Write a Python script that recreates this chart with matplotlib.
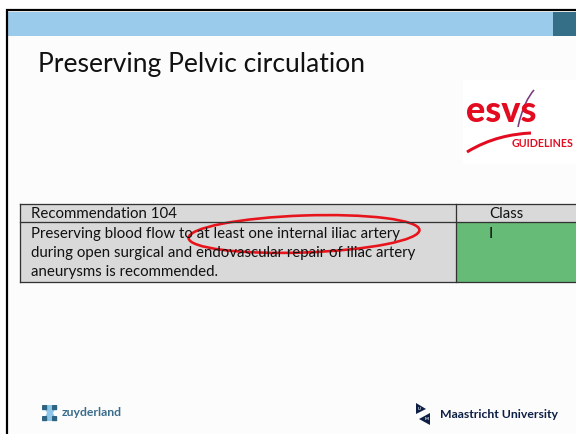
"""Slide recreation: ESVS recommendation on preserving pelvic circulation."""

import matplotlib
matplotlib.use("Agg")
import matplotlib.pyplot as plt
from matplotlib.patches import Rectangle, Ellipse, Polygon, FancyBboxPatch
from matplotlib.path import Path
from matplotlib.patches import PathPatch

plt.rcParams["font.family"] = ["Lato", "DejaVu Sans"]

# slide content
title = "Preserving Pelvic circulation"
header_cells = ["Recommendation 104", "Class"]
body_lines = [
    "Preserving blood flow to at least one internal iliac artery",
    "during open surgical and endovascular repair of iliac artery",
    "aneurysms is recommended.",
]
class_value = "I"
logo_esvs = ["esvs", "GUIDELINES"]
logo_left = "zuyderland"
logo_right = "Maastricht University"

W, H = 576, 434
PT = 72 / 100  # px -> pt at dpi 100

fig = plt.figure(figsize=(W / 100, H / 100), dpi=100)
ax = fig.add_axes([0, 0, 1, 1])
ax.set_xlim(0, W)
ax.set_ylim(H, 0)
ax.axis("off")
fig.patch.set_facecolor("white")

# slide frame and header band
ax.add_patch(Rectangle((7, 10), W, H, facecolor="#fcfcfc", edgecolor="none"))
ax.add_patch(Rectangle((8, 12), W, 24, facecolor="#9acbea", edgecolor="none"))
ax.add_patch(Rectangle((553, 12), 30, 24, facecolor="#356e87", edgecolor="none"))
ax.plot([6, W], [10, 10], color="black", lw=2.2 * PT, solid_capstyle="butt")
ax.plot([7, 7], [9, H], color="black", lw=2.2 * PT, solid_capstyle="butt")

ax.text(38, 72, title, fontsize=26.5 * PT, color="#111111", va="baseline")

# table
x0, xd, x1 = 20, 456, 580
y0, yh, y1 = 204, 222, 282
ax.add_patch(Rectangle((x0, y0), x1 - x0, yh - y0, facecolor="#d9d9d9", edgecolor="none"))
ax.add_patch(Rectangle((x0, yh), xd - x0, y1 - yh, facecolor="#d9d9d9", edgecolor="none"))
ax.add_patch(Rectangle((xd, yh), x1 - xd, y1 - yh, facecolor="#66bb77", edgecolor="none"))
lc, lw = "#333333", 1.3 * PT
for y in (y0, yh, y1):
    ax.plot([x0, x1], [y, y], color=lc, lw=lw)
ax.plot([x0, x0], [y0, y1], color=lc, lw=lw)
ax.plot([xd, xd], [y0, y1], color=lc, lw=lw)

fs = 15 * PT
ax.text(31, 218, header_cells[0], fontsize=fs, color="#111111", va="baseline")
ax.text(489, 218, header_cells[1], fontsize=fs, color="#111111", va="baseline")
for i, line in enumerate(body_lines):
    ax.text(31, 238 + i * 19, line, fontsize=fs, color="#111111", va="baseline")
ax.text(489, 238, class_value, fontsize=fs, color="#111111", va="baseline")

# red highlight ellipse
ax.add_patch(Ellipse((304, 234), 231, 37, angle=-2, fill=False,
                     edgecolor="#e8141c", lw=2.6 * PT))

# ESVS logo
ax.add_patch(Rectangle((463, 80), W, 84, facecolor="white", edgecolor="none"))
ax.text(466, 122, logo_esvs[0], fontsize=36 * PT, fontweight="black",
        color="#e30b20", va="baseline")
ax.text(512, 147, logo_esvs[1], fontsize=10.6 * PT, fontweight="bold",
        color="#e30b20", va="baseline")
swoosh = Path([(467, 152), (490, 138), (512, 134), (531, 133)],
              [Path.MOVETO, Path.CURVE4, Path.CURVE4, Path.CURVE4])
ax.add_patch(PathPatch(swoosh, fill=False, edgecolor="#e30b20", lw=3 * PT))
tick = Path([(518, 127), (522, 108), (528, 97), (534, 90)],
            [Path.MOVETO, Path.CURVE4, Path.CURVE4, Path.CURVE4])
ax.add_patch(PathPatch(tick, fill=False, edgecolor="#7a3a7e", lw=1.6 * PT))

# zuyderland logo
ax.add_patch(Polygon([(43, 405), (57, 405), (53, 413), (57, 421), (43, 421), (47, 413)],
                     closed=True, facecolor="#8ec6ea", edgecolor="none"))
for (cx, cy) in [(42, 405), (52, 405), (42, 416), (52, 416)]:
    ax.add_patch(FancyBboxPatch((cx + 0.8, cy + 0.8), 3.6, 3.6,
                                boxstyle="round,pad=0.8", facecolor="#2f6382",
                                edgecolor="none"))
ax.text(62, 413, logo_left, fontsize=12.3 * PT, fontweight="bold",
        color="#3a6d8c", va="center")

# Maastricht University logo
ax.add_patch(Polygon([(416, 403), (416, 414), (426, 409)], closed=True,
                     facecolor="#0d1f44", edgecolor="none"))
ax.add_patch(Polygon([(430, 413), (430, 425), (419, 419)], closed=True,
                     facecolor="#0d1f44", edgecolor="none"))
ax.text(419.5, 409, "U", fontsize=4 * PT, color="white", ha="center", va="center",
        fontweight="bold")
ax.text(426.5, 419, "M", fontsize=4 * PT, color="white", ha="center", va="center",
        fontweight="bold")
ax.text(440, 414, logo_right, fontsize=12.2 * PT, fontweight="bold",
        color="#0d1f44", va="center")

fig.savefig("out.png", dpi=100)
